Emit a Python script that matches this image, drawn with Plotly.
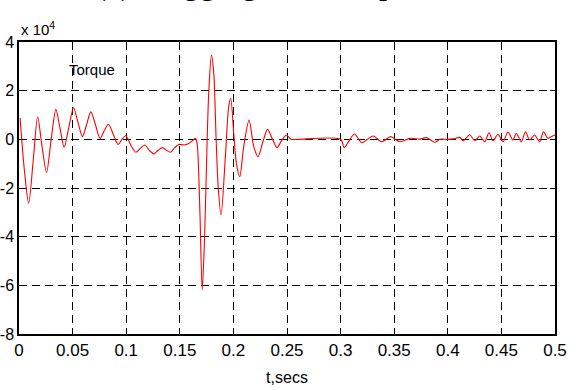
import plotly.graph_objects as go

# Shaft torque response (values in units of 1e4)
t_s = [
    0.0010, 0.0050, 0.0090, 0.0133, 0.0174, 0.0215, 0.0257, 0.0300, 0.0344, 0.0383,
    0.0421, 0.0465, 0.0509, 0.0550, 0.0592, 0.0630, 0.0670, 0.0713, 0.0756, 0.0795,
    0.0834, 0.0880, 0.0924, 0.0960, 0.0995, 0.1045, 0.1090, 0.1130, 0.1172, 0.1215,
    0.1259, 0.1298, 0.1337, 0.1376, 0.1414, 0.1450, 0.1491, 0.1537, 0.1584, 0.1620,
    0.1647, 0.1662, 0.1687, 0.1709, 0.1730, 0.1755, 0.1771, 0.1795, 0.1817, 0.1839,
    0.1858, 0.1885, 0.1925, 0.1956, 0.1975, 0.2003, 0.2028, 0.2059, 0.2096, 0.2146,
    0.2190, 0.2230, 0.2275, 0.2319, 0.2365, 0.2407, 0.2450, 0.2493, 0.2540, 0.2600,
    0.3000, 0.3033, 0.3080, 0.3129, 0.3197, 0.3250, 0.3305, 0.3383, 0.3467, 0.3553,
    0.3647, 0.3740, 0.3802, 0.3879, 0.3926, 0.3994, 0.4050, 0.4112, 0.4143, 0.4205,
    0.4251, 0.4298, 0.4344, 0.4384, 0.4422, 0.4468, 0.4515, 0.4561, 0.4608, 0.4639,
    0.4685, 0.4725, 0.4763, 0.4809, 0.4856, 0.4893, 0.4933, 0.4965, 0.5000,
]
torque_e4 = [
    0.88, -1.26, -2.63, -0.85, 0.93, -0.30, -1.37, 0.00, 1.23, 0.45,
    -0.33, 0.50, 1.30, 0.70, 0.11, 0.60, 1.13, 0.60, 0.04, 0.35,
    0.62, 0.20, -0.21, 0.00, 0.15, -0.25, -0.53, -0.38, -0.23, -0.45,
    -0.60, -0.45, -0.34, -0.45, -0.53, -0.35, -0.21, -0.23, -0.17, -0.05,
    0.04, -0.20, -2.90, -6.19, -4.20, -0.03, 2.03, 3.46, 2.71, -0.03,
    -1.95, -3.11, -0.71, 1.34, 1.69, 0.25, -0.99, -1.54, -0.30, 0.79,
    -0.30, -0.71, -0.10, 0.41, 0.00, -0.34, -0.05, 0.18, 0.00, 0.00,
    0.00, -0.34, -0.05, 0.22, -0.14, 0.00, 0.14, -0.10, 0.11, -0.10,
    0.04, 0.01, 0.07, -0.12, 0.00, 0.00, 0.02, 0.08, -0.06, 0.19,
    -0.06, 0.14, -0.10, 0.27, -0.06, 0.21, -0.10, 0.30, -0.03, 0.25,
    -0.10, 0.31, -0.03, 0.18, -0.10, 0.31, 0.04, 0.11, 0.18,
]

x_ticks = [0, 0.05, 0.1, 0.15, 0.2, 0.25, 0.3, 0.35, 0.4, 0.45, 0.5]
x_tick_labels = ["0", "0.05", "0.1", "0.15", "0.2", "0.25", "0.3", "0.35", "0.4", "0.45", "0.5"]
y_ticks = [-8, -6, -4, -2, 0, 2, 4]
y_tick_labels = ["-8", "-6", "-4", "-2", "0", "2", "4"]

FONT = "Liberation Sans, Arial, Helvetica, sans-serif"

fig = go.Figure()
fig.add_trace(go.Scatter(
    x=t_s, y=torque_e4, mode="lines",
    line=dict(color="#ff0000", width=1.1, shape="spline", smoothing=0.8),
    showlegend=False, hoverinfo="skip",
))

axis_common = dict(
    showgrid=True, gridcolor="#000000", gridwidth=1, griddash="8px,5px",
    showline=True, linecolor="#000000", linewidth=1.5, mirror="allticks",
    ticks="inside", ticklen=5, tickcolor="#000000", tickwidth=1,
    zeroline=False, automargin=False,
)

fig.update_xaxes(range=[0, 0.5], tickvals=x_ticks, ticktext=x_tick_labels,
                 tickfont=dict(family=FONT, size=17, color="#000000"),
                 title=dict(text="t,secs", font=dict(family=FONT, size=16, color="#000000"), standoff=13),
                 **axis_common)
fig.update_yaxes(range=[-8, 4], tickvals=y_ticks, ticktext=y_tick_labels,
                 tickfont=dict(family=FONT, size=16, color="#000000"),
                 ticklabelstandoff=0, **axis_common)

fig.add_annotation(x=0.0684, y=2.85, xref="x", yref="y", text="Torque",
                   showarrow=False, xanchor="center", yanchor="middle",
                   font=dict(family=FONT, size=15, color="#000000"))
fig.add_annotation(x=0.0, y=1.006, xref="paper", yref="paper", text="x 10<sup>4</sup>",
                   showarrow=False, xanchor="left", yanchor="bottom",
                   font=dict(family=FONT, size=15, color="#000000"))
fig.add_annotation(x=0.1378, y=1.13, xref="paper", yref="paper",
                   text="(c)  Lagging reactive power",
                   showarrow=False, xanchor="left", yanchor="bottom",
                   font=dict(family="Liberation Serif, Times New Roman, serif", size=33, color="#000000"))

fig.update_layout(
    width=578, height=390,
    margin=dict(l=19, r=23, t=42, b=56),
    paper_bgcolor="#ffffff", plot_bgcolor="#ffffff",
)

fig.write_html("out.html")
